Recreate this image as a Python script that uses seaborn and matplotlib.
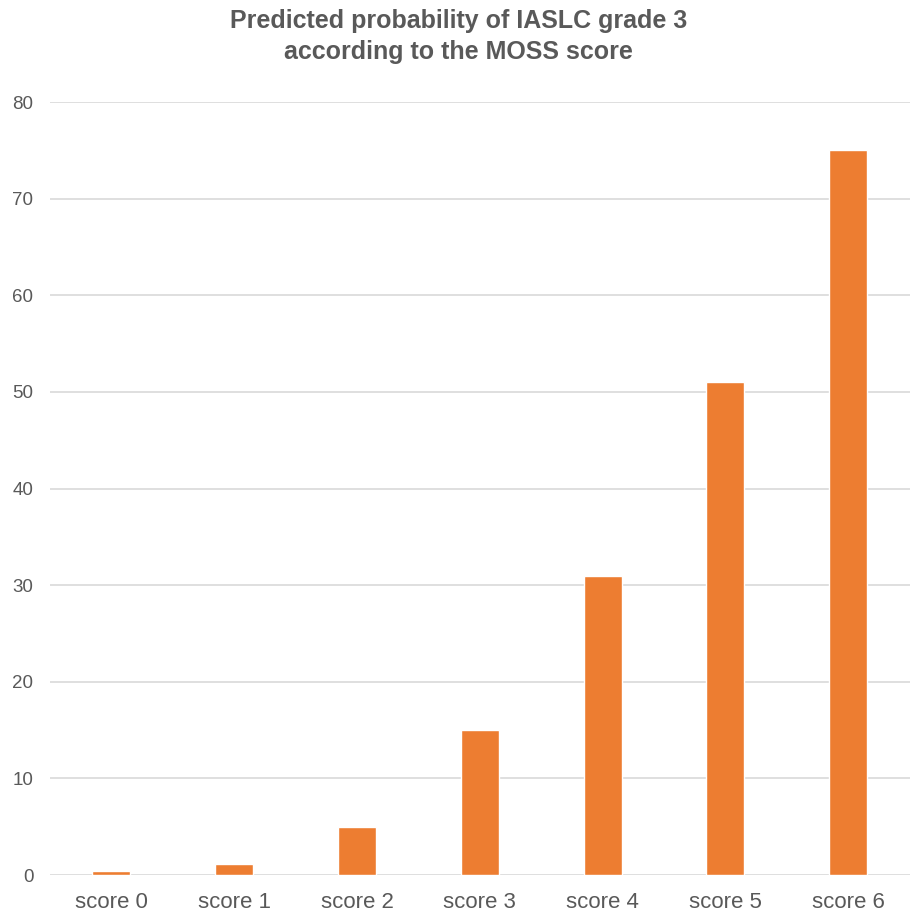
import matplotlib
matplotlib.use("Agg")
import matplotlib.pyplot as plt
import seaborn as sns
import pandas as pd

categories = ["score 0", "score 1", "score 2", "score 3", "score 4", "score 5", "score 6"]
values = [0.4, 1.1, 5, 15, 31, 51, 75]
yticks = [0, 10, 20, 30, 40, 50, 60, 70, 80]
title = "Predicted probability of IASLC grade 3\naccording to the MOSS score"

sns.set_theme(style="white")
plt.rcParams['font.family'] = ['Liberation Sans', 'DejaVu Sans']

df = pd.DataFrame({"category": categories, "value": values})

fig = plt.figure(figsize=(9.17, 9.13), dpi=100)
ax = fig.add_axes([0.0545, 0.0416, 0.9375, 0.8465])

sns.barplot(data=df, x="category", y="value", color="#ED7D31", width=0.31,
            saturation=1, ax=ax, zorder=3)

ax.set_ylim(0, 80)
ax.set_xlim(-0.5, 6.5)
ax.set_yticks(yticks)
ax.yaxis.grid(True, color="#D9D9D9", linewidth=1.2, zorder=0)
ax.set_axisbelow(True)
for s in ax.spines.values():
    s.set_visible(False)
ax.set_xlabel("")
ax.set_ylabel("")
ax.tick_params(axis="both", length=0, colors="#595959")
ax.tick_params(axis="x", pad=12, labelsize=16)
ax.tick_params(axis="y", pad=12, labelsize=13.5)

fig.suptitle(title, y=0.9896, fontsize=18, fontweight="bold", color="#595959",
             linespacing=1.35, va="top")

fig.savefig("out.png", dpi=100)
